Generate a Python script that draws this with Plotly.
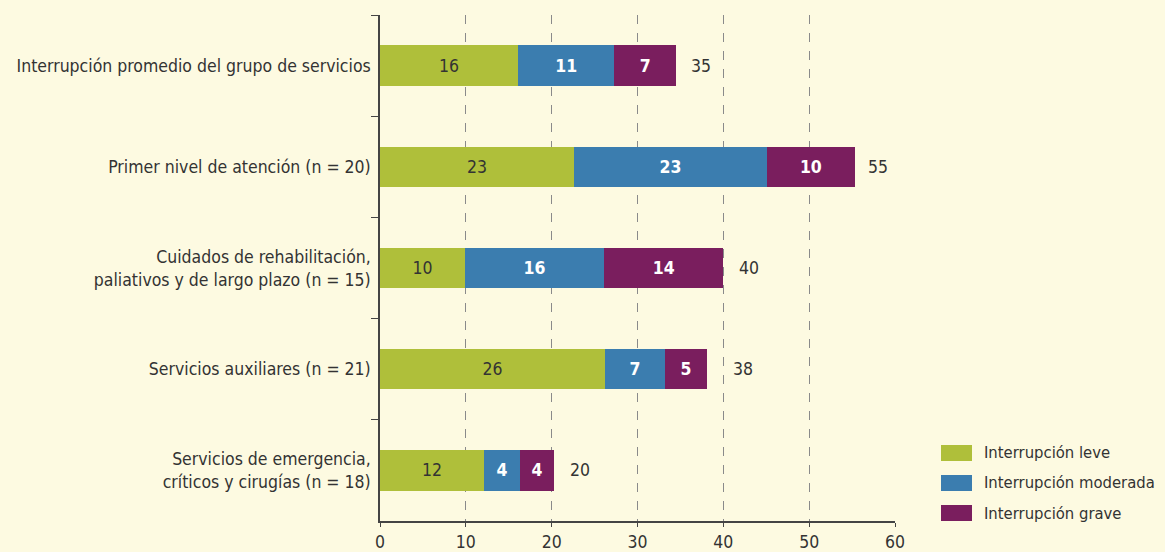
import plotly.graph_objects as go

categories = [
    "Interrupción promedio del grupo de servicios",
    "Primer nivel de atención (n = 20)",
    "Cuidados de rehabilitación,<br>paliativos y de largo plazo (n = 15)",
    "Servicios auxiliares (n = 21)",
    "Servicios de emergencia,<br>críticos y cirugías (n = 18)",
]
leve = [16.1, 22.6, 9.9, 26.2, 12.1]
moderada = [11.2, 22.5, 16.2, 7.0, 4.2]
grave = [7.2, 10.2, 13.9, 4.9, 4.0]
leve_labels = ["16", "23", "10", "26", "12"]
moderada_labels = ["11", "23", "16", "7", "4"]
grave_labels = ["7", "10", "14", "5", "4"]
total_labels = ["35", "55", "40", "38", "20"]
series_names = ["Interrupción leve", "Interrupción moderada", "Interrupción grave"]

FONT = "DejaVu Sans Condensed, Liberation Sans Narrow, sans-serif"
FS = 17.5
BG = "#FDFAE1"
GREEN = "#AFBF3A"
BLUE = "#3B7DAF"
PURPLE = "#7A1E5E"
colors = [GREEN, BLUE, PURPLE]

fig = go.Figure()
series = [
    (series_names[0], leve, leve_labels, GREEN, dict(color="#333333", size=FS, family=FONT)),
    (series_names[1], moderada, moderada_labels, BLUE, dict(color="white", size=FS, family=FONT, weight="bold")),
    (series_names[2], grave, grave_labels, PURPLE, dict(color="white", size=FS, family=FONT, weight="bold")),
]
for name, vals, labs, col, tf in series:
    fig.add_trace(go.Bar(
        y=categories, x=vals, name=name, orientation="h",
        marker=dict(color=col, line=dict(width=0)),
        text=labs, textposition="inside", insidetextanchor="middle",
        textfont=tf, constraintext="none", width=0.4,
        hoverinfo="skip", showlegend=False,
    ))

totals = [a + b + c for a, b, c in zip(leve, moderada, grave)]
label_shifts = [13, 11, 14, 24, 14]
for cat, t, lab, sh in zip(categories, totals, total_labels, label_shifts):
    fig.add_annotation(x=t, y=cat, text=lab, showarrow=False, xanchor="left",
                       xshift=sh, font=dict(size=FS, color="#333333", family=FONT))

# custom legend (wide rectangles)
leg_y = [0.1344, 0.0751, 0.0158]
for name, col, yc in zip(series_names, colors, leg_y):
    fig.add_shape(type="rect", xref="paper", yref="paper",
                  x0=1.0893, x1=1.1495, y0=yc - 0.0158, y1=yc + 0.0158,
                  fillcolor=col, line=dict(width=0))
    fig.add_annotation(xref="paper", yref="paper", x=1.1689, y=yc, text=name,
                       showarrow=False, xanchor="left", yanchor="middle",
                       font=dict(size=16.5, color="#333333", family=FONT))

fig.update_layout(
    barmode="stack",
    width=1165, height=552,
    margin=dict(l=380, r=270, t=15, b=31, autoexpand=False),
    paper_bgcolor=BG, plot_bgcolor=BG,
    font=dict(family=FONT, size=FS, color="#333333"),
    showlegend=False,
    xaxis=dict(range=[0, 60], dtick=10, showgrid=True, gridcolor="#8a8a8a",
               griddash="dash", gridwidth=1, zeroline=False, showline=True,
               linecolor="#444444", linewidth=1.5, ticks="outside", ticklen=4,
               tickcolor="#444444", tickfont=dict(size=FS, family=FONT, color="#333333")),
    yaxis=dict(autorange="reversed", showline=True, linecolor="#444444", linewidth=1.5,
               ticks="outside", tickson="boundaries", ticklen=7, tickcolor="#444444",
               showgrid=False, tickfont=dict(size=FS, family=FONT, color="#333333"),
               ticklabelstandoff=4),
)

fig.write_html("out.html", config={"displayModeBar": False},
               post_script="document.body.style.margin='0';document.body.style.overflow='hidden';")
